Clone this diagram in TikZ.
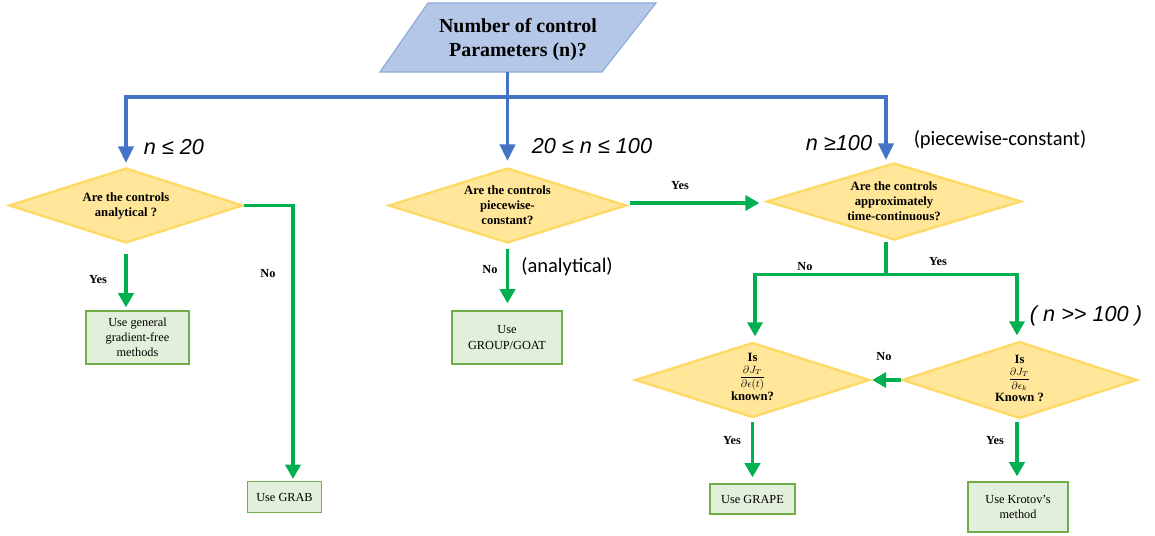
\documentclass[tikz,border=0pt]{standalone}
\usepackage{fontspec}
\setmainfont{Liberation Serif}
\newfontfamily\arialf{Liberation Sans}
\newfontfamily\calib{Carlito}
\usetikzlibrary{shapes.geometric,arrows.meta,calc}
\definecolor{qblue}{RGB}{180,199,231}
\definecolor{qblueb}{RGB}{143,170,220}
\definecolor{lblue}{RGB}{68,114,196}
\definecolor{dfill}{RGB}{255,230,153}
\definecolor{dline}{RGB}{255,217,102}
\definecolor{gcol}{RGB}{0,176,80}
\definecolor{bfill}{RGB}{226,239,218}
\definecolor{bline}{RGB}{112,173,71}
\tikzset{
  dia/.style={diamond, draw=dline, fill=dfill, line width=2pt, inner sep=0pt, aspect=1},
  dtext/.style={font=\fontsize{10.8}{12.8}\selectfont\bfseries, align=center, inner sep=0pt},
  box/.style={draw=bline, fill=bfill, line width=1.2pt, font=\fontsize{10.5}{13}\selectfont, align=center, inner sep=0pt},
  bluea/.style={draw=lblue, line width=2.6pt, -{Triangle[length=14pt,width=13pt]}},
  blueline/.style={draw=lblue, line width=2.6pt},
  garrow/.style={draw=gcol, line width=2.6pt, -{Triangle[length=12pt,width=13pt]}},
  gconn/.style={draw=gcol, line width=2.6pt},
  lab/.style={font=\fontsize{10.5}{12}\selectfont\bfseries, inner sep=0pt},
  nlab/.style={font=\arialf\itshape\fontsize{18.5}{21}\selectfont, inner sep=0pt},
  plab/.style={font=\calib\fontsize{17.5}{20}\selectfont, inner sep=0pt},
}
\begin{document}
\begin{tikzpicture}[x=0.03cm,y=-0.03cm]
\useasboundingbox (0,0) rectangle (1155,535);

% top parallelogram
\path[fill=qblue, draw=qblueb, line width=1pt] (428,3) -- (656,3) -- (602,72) -- (380,72) -- cycle;
\node[font=\fontsize{17}{20.5}\selectfont\bfseries, align=center, inner sep=0pt] (title) at (518,40) {Number of control\\Parameters (n)?};
\coordinate (qb) at (507.5,72);
\coordinate (hb) at (507.5,97);

% diamonds
\node[dia, minimum width=234*0.03cm, minimum height=75*0.03cm] (d1) at (126,205.5) {};
\node[dtext] (t1) at (d1) {Are the controls\\analytical ?};
\node[dia, minimum width=238*0.03cm, minimum height=75*0.03cm] (d2) at (507.5,205.5) {};
\node[dtext] (t2) at (d2) {Are the controls\\piecewise-\\constant?};
\node[dia, minimum width=255*0.03cm, minimum height=77*0.03cm] (d3) at (894,201.5) {};
\node[dtext] (t3) at (d3) {Are the controls\\approximately\\time-continuous?};
\node[dia, minimum width=235*0.03cm, minimum height=75*0.03cm] (d4) at (752.5,380) {};
\node[dtext, font=\fontsize{10.8}{11}\selectfont\bfseries] (t4) at (752.5,377) {Is\\[3pt]{\fontsize{9}{9}\selectfont$\displaystyle\frac{\partial J_T}{\partial\epsilon(t)}$}\\[1pt]known?};
\node[dia, minimum width=235*0.03cm, minimum height=77*0.03cm] (d5) at (1019.5,380) {};
\node[dtext, font=\fontsize{10.8}{11}\selectfont\bfseries] (t5) at (1019.5,378) {Is\\[3pt]{\fontsize{9}{9}\selectfont$\displaystyle\frac{\partial J_T}{\partial\epsilon_k}$}\\[1pt]Known ?};

% boxes
\node[box, minimum width=103*0.03cm, minimum height=53*0.03cm] (b1) at (137.5,337.5) {Use general\\gradient-free\\methods};
\node[box, minimum width=74*0.03cm, minimum height=31*0.03cm] (b2) at (284.5,497) {Use GRAB};
\node[box, minimum width=110*0.03cm, minimum height=53*0.03cm] (b3) at (507,337.5) {Use\\GROUP/GOAT};
\node[box, minimum width=85*0.03cm, minimum height=30*0.03cm] (b4) at (752.5,499) {Use GRAPE};
\node[box, minimum width=100*0.03cm, minimum height=50*0.03cm] (b5) at (1018,507) {Use Krotov’s\\method};

% blue connectors
\draw[blueline] (qb) -- (hb);
\draw[bluea] (hb) -| ($(d1.north)+(0,-4)$);
\draw[bluea] (hb) -- ($(d2.north)+(0,-6)$);
\draw[bluea] (hb) -| ($(d3.north)+(-8,-2)$);

% green connectors
\draw[garrow] ($(d1.south)+(0,10)$) -- ($(d1.south |- b1.north)+(0,-3)$);
\draw[garrow] (d1.east) -| ($(b2.north)+(8.5,-2)$);
\draw[garrow] ($(d2.south)+(0,5)$) -- ($(d2.south |- b3.north)+(0,-7)$);
\coordinate (ya) at ($(d2.east)+(2,-2.5)$);
\draw[garrow] (ya) -- ($(ya -| d3.west)+(-6,0)$);
\coordinate (d3b) at ($(d3.south)+(-8,1)$);
\coordinate (j3) at ($(d3b)+(0,32)$);
\draw[gconn] (d3b) -- (j3);
\draw[garrow] (j3) -| ($(d4.north)+(2.5,-5)$);
\draw[garrow] (j3) -| ($(d5.north)+(-2.5,-5)$);
\draw[garrow] (d5.west) -- ($(d4.east)+(1,0)$);
\draw[garrow] ($(d4.south)+(0,3)$) -- ($(d4.south |- b4.north)+(0,-6)$);
\draw[garrow] ($(d5.south)+(-2.5,2)$) -- ($(d5.south |- b5.north)+(-2.5,-5)$);

% labels
\node[lab] (y1) at (98,280) {Yes};
\node[lab] (n1) at (268,274) {No};
\node[lab] (n2) at (490,270) {No};
\node[plab] (an) at (567,267) {(analytical)};
\node[lab] (y2) at (680,186) {Yes};
\node[lab] (n3) at (805,267) {No};
\node[lab] (y3) at (938,262) {Yes};
\node[lab] (n4) at (884,357) {No};
\node[lab] (y4) at (732,441) {Yes};
\node[lab] (y5) at (995,441) {Yes};
\node[nlab] (c1) at (174,147) {n ≤ 20};
\node[nlab] (c2) at (592,146) {20 ≤ n ≤ 100};
\node[nlab] (c3) at (839,143) {n ≥100};
\node[plab] (pc) at (1000,140) {(piecewise-constant)};
\node[nlab] (c4) at (1086,316) {( n >> 100 )};
\end{tikzpicture}
\end{document}
